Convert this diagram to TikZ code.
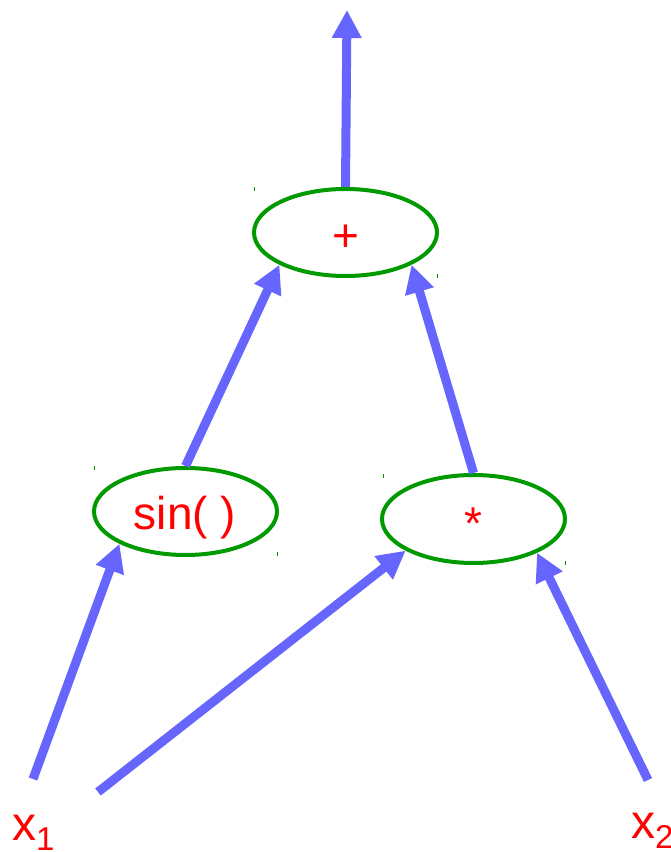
\documentclass[tikz,border=0pt]{standalone}
\usepackage{fontspec}
\setmainfont{Liberation Sans}
\usetikzlibrary{arrows.meta,shapes.geometric}
\definecolor{arrblue}{RGB}{102,102,255}
\definecolor{ellgreen}{RGB}{0,153,0}
\definecolor{txtred}{RGB}{255,0,0}
\begin{document}
\begin{tikzpicture}[x=1pt,y=1pt,
  ell/.style={ellipse, draw=ellgreen, line width=4pt, minimum width=183pt, minimum height=87pt, inner sep=0pt},
  lbl/.style={text=txtred, font=\fontsize{46}{50}\selectfont, inner sep=0pt, anchor=base},
  varlbl/.style={text=txtred, font=\fontsize{48}{52}\selectfont, inner sep=0pt, anchor=base west},
  arr/.style={draw=arrblue, line width=9pt, -{Triangle[width=28pt,length=28pt]}},
  tickmark/.style={draw=ellgreen, line width=1pt}]
\useasboundingbox (0,0) rectangle (670,852);
% ellipses
\node[ell] (plus) at (345.5,619.5) {};
\node[ell] (sin) at (185.5,340.5) {};
\node[ell, minimum height=88pt] (star) at (473.5,333) {};
% labels
\node[lbl] (pluslbl) at (345.7,600) {+};
\node[lbl] (sinlbl) at (185,322) {sin( )};
\node[lbl] (starlbl) at (473,312) {*};
\node[varlbl] (x1) at (12,12) {x\raisebox{-10pt}{\fontsize{33}{36}\selectfont 1}};
\node[varlbl] (x2) at (631,13) {x\raisebox{-10pt}{\fontsize{33}{36}\selectfont 2}};
% free ends
\coordinate (top) at (347,842);
\coordinate (x1a) at (33,73);
\coordinate (x1b) at (98,60);
\coordinate (x2a) at (648,72);
% arrows
\draw[arr] (plus.north) -- (top);
\draw[arr] (sin.north) -- (plus.206);
\draw[arr] (star.north) -- (plus.334);
\draw[arr] (x1a) -- (sin.206);
\draw[arr] (x1b) -- (star.205);
\draw[arr] (x2a) -- (star.332);
% tiny marks
\draw[tickmark] (254,661) -- (254,665);
\draw[tickmark] (437,574) -- (437,578);
\draw[tickmark] (94,382) -- (94,386);
\draw[tickmark] (277,296) -- (277,300);
\draw[tickmark] (383,374) -- (383,378);
\draw[tickmark] (565,287) -- (565,291);
\end{tikzpicture}
\end{document}
